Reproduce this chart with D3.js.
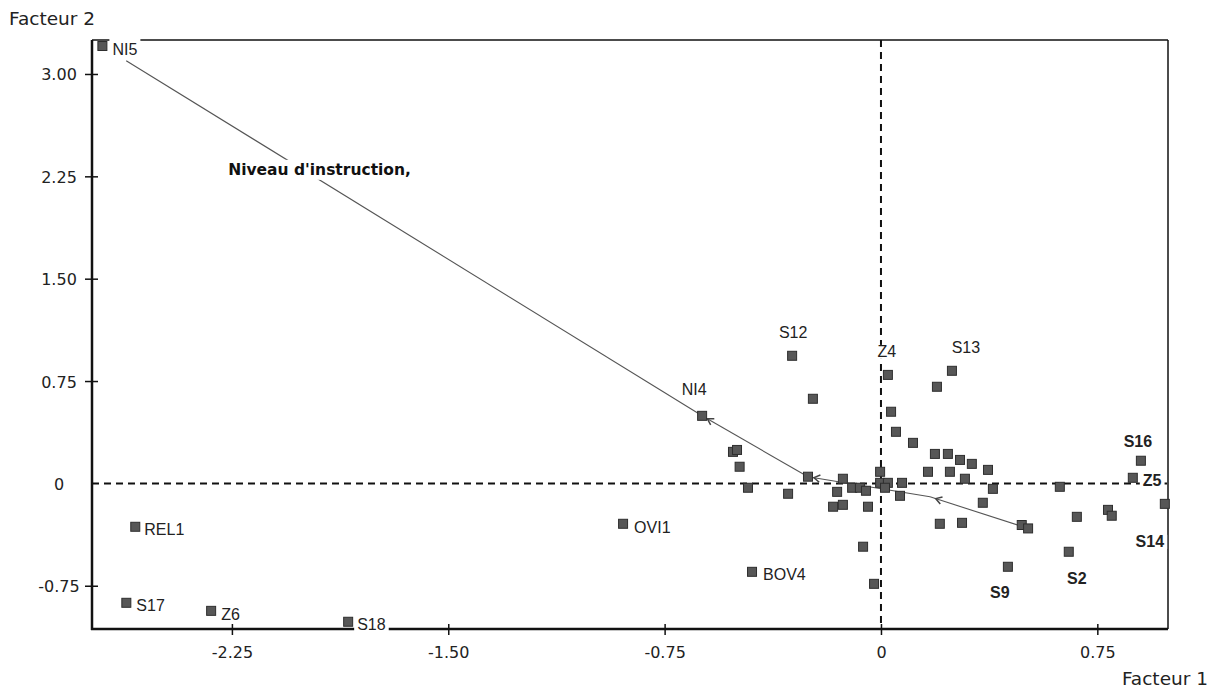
<!DOCTYPE html>
<html><head><meta charset="utf-8">
<script src="https://cdn.jsdelivr.net/npm/d3@7"></script>
<style>body{margin:0;background:#fff}svg{display:block}</style>
</head><body>
<script>
// ---------- DATA ----------
const pointNames = ["NI5","REL1","S17","Z6","S18","OVI1","BOV4","NI4","S12","Z4","S13","S16","Z5","S14","S9","S2",
  "","","","","","","","","","","","","","","","","","","","","","","","","","","","","","","","","","","","","","","","","","","","",""];
const factor1 = [-2.699,-2.585,-2.616,-2.322,-1.847,-0.894,-0.447,-0.620,-0.308,0.024,0.246,0.901,0.873,0.984,0.440,0.651,
  -0.236,0.035,0.052,0.111,0.194,0.187,0.232,0.274,0.315,0.371,0.163,0.239,0.291,0.388,0.353,0.204,0.281,0.488,0.510,
  0.679,0.620,0.787,0.800,-0.062,-0.024,-0.513,-0.499,-0.490,-0.461,-0.322,-0.253,-0.132,-0.152,-0.166,-0.132,
  -0.100,-0.073,-0.052,-0.045,-0.003,-0.003,0.024,0.014,0.073,0.066,0.135,0.152,0.170];
const factor2 = [3.205,-0.318,-0.875,-0.934,-1.014,-0.296,-0.648,0.495,0.935,0.795,0.825,0.166,0.041,-0.150,-0.611,-0.501,
  0.620,0.525,0.378,0.297,0.708,0.216,0.216,0.172,0.143,0.099,0.085,0.085,0.034,-0.040,-0.142,-0.296,-0.289,-0.305,-0.330,
  -0.245,-0.025,-0.194,-0.237,-0.464,-0.736,0.231,0.245,0.122,-0.032,-0.076,0.049,0.034,-0.062,-0.171,-0.157,
  -0.032,-0.032,-0.054,-0.171,0.085,0.004,0.004,-0.032,0.004,-0.091,0.004,-0.047,-0.098];

// trajectory of "Niveau d'instruction" (NI1 -> NI5)
const trajNames = ["NI1","NI2","NI3","NI4","NI5"];
const trajF1 = [0.510, 0.170, -0.253, -0.620, -2.699];
const trajF2 = [-0.330, -0.098, 0.049, 0.495, 3.205];
const trajTitle = "Niveau d'instruction,";

const xTicks = [-2.25, -1.50, -0.75, 0, 0.75];
const xTickLabels = ["-2.25", "-1.50", "-0.75", "0", "0.75"];
const yTicks = [-0.75, 0, 0.75, 1.50, 2.25, 3.00];
const yTickLabels = ["-0.75", "0", "0.75", "1.50", "2.25", "3.00"];
const xDomain = [-2.735, 0.995];
const yDomain = [-1.067, 3.249];
const xTitle = "Facteur 1", yTitle = "Facteur 2";

// ---------- LAYOUT / STYLE ----------
const W = 1219, H = 690;
const M = {left: 92, right: 51, top: 40, bottom: 61};
const labelStyle = {
  NI5: {dx: 10, dy: 9, a: "start"}, REL1: {dx: 9, dy: 8, a: "start"}, S17: {dx: 10, dy: 8, a: "start"},
  Z6: {dx: 10, dy: 9, a: "start"}, S18: {dx: 9, dy: 8, a: "start"}, OVI1: {dx: 11, dy: 9, a: "start"},
  BOV4: {dx: 11, dy: 8, a: "start"}, NI4: {dx: -8, dy: -21, a: "middle"}, S12: {dx: 1, dy: -18, a: "middle"},
  Z4: {dx: -1, dy: -18, a: "middle"}, S13: {dx: 14, dy: -18, a: "middle"}, S16: {dx: -3, dy: -14, a: "middle", b: 1},
  Z5: {dx: 10, dy: 8, a: "start", b: 1}, S14: {dx: -15, dy: 43, a: "middle", b: 1},
  S9: {dx: -8, dy: 31, a: "middle", b: 1}, S2: {dx: 8, dy: 32, a: "middle", b: 1}
};

const svg = d3.select("body").append("svg").attr("width", W).attr("height", H);
const x = d3.scaleLinear().domain(xDomain).range([M.left, W - M.right]);
const y = d3.scaleLinear().domain(yDomain).range([H - M.bottom, M.top]);
const x0 = M.left, x1 = W - M.right, y0 = H - M.bottom, y1 = M.top;

// frame: thin top/right, thick left/bottom
svg.append("line").attr("x1", x0).attr("x2", x1).attr("y1", y1).attr("y2", y1).attr("stroke", "#111").attr("stroke-width", 1.5);
svg.append("line").attr("x1", x1).attr("x2", x1).attr("y1", y1).attr("y2", y0).attr("stroke", "#111").attr("stroke-width", 1.5);

// dashed zero lines
svg.append("line").attr("x1", x0).attr("x2", x1).attr("y1", y(0)).attr("y2", y(0))
  .attr("stroke", "#111").attr("stroke-width", 2).attr("stroke-dasharray", "7,5");
svg.append("line").attr("x1", x(0)).attr("x2", x(0)).attr("y1", y1).attr("y2", y0)
  .attr("stroke", "#111").attr("stroke-width", 2).attr("stroke-dasharray", "7,5");

// axes via d3
const xAxis = d3.axisBottom(x).tickValues(xTicks).tickFormat((d, i) => xTickLabels[i]).tickSize(0).tickPadding(0);
const yAxis = d3.axisLeft(y).tickValues(yTicks).tickFormat((d, i) => yTickLabels[i]).tickSize(0).tickPadding(0);
const gx = svg.append("g").attr("transform", `translate(0,${y0})`).call(xAxis);
const gy = svg.append("g").attr("transform", `translate(${x0},0)`).call(yAxis);
[gx, gy].forEach(g => { g.select(".domain").remove(); g.selectAll("text").remove(); });
gx.selectAll(".tick").append("line").attr("y1", -5).attr("y2", 6).attr("stroke", "#111").attr("stroke-width", 1.5);
gx.selectAll(".tick").append("text").attr("y", 29).attr("text-anchor", "middle")
  .attr("font-family", "DejaVu Sans").attr("font-size", 16).attr("fill", "#222").text((d, i) => xTickLabels[i]);
gy.selectAll(".tick").filter(d => d !== 0).append("line").attr("x1", -7).attr("x2", 6).attr("stroke", "#111").attr("stroke-width", 1.5);
gy.selectAll(".tick").append("text").attr("x", -33).attr("y", 6).attr("text-anchor", "middle")
  .attr("font-family", "DejaVu Sans").attr("font-size", 16).attr("fill", "#222").text((d, i) => yTickLabels[i]);

svg.append("line").attr("x1", x0).attr("x2", x0).attr("y1", y1).attr("y2", y0 + 1).attr("stroke", "#111").attr("stroke-width", 2.5);
svg.append("line").attr("x1", x0 - 1).attr("x2", x1).attr("y1", y0).attr("y2", y0).attr("stroke", "#111").attr("stroke-width", 2.5);

// axis titles
svg.append("text").attr("x", 9).attr("y", 25).attr("font-family", "DejaVu Sans").attr("font-size", 18.5)
  .attr("fill", "#222").text(yTitle);
svg.append("text").attr("x", 1208).attr("y", 685).attr("text-anchor", "end").attr("font-family", "DejaVu Sans")
  .attr("font-size", 18.5).attr("fill", "#222").text(xTitle);

// trajectory line with arrowheads
const traj = trajNames.map((n, i) => ({n, px: x(trajF1[i]), py: y(trajF2[i])}));
const gl = svg.append("g");
for (let i = 0; i < traj.length - 1; i++) {
  const a = traj[i], b = traj[i + 1];
  const dxv = b.px - a.px, dyv = b.py - a.py, len = Math.hypot(dxv, dyv);
  const ux = dxv / len, uy = dyv / len;
  const last = i === traj.length - 2;
  const endGap = last ? 28 : 0;
  gl.append("line").attr("x1", a.px).attr("y1", a.py).attr("x2", b.px - ux * endGap).attr("y2", b.py - uy * endGap)
    .attr("stroke", "#555").attr("stroke-width", 1.1);
  if (!last) {
    const tx = b.px - ux * 6, ty = b.py - uy * 6;
    const ang = Math.atan2(uy, ux), s = 7, w = 0.55;
    const p1 = [tx - s * Math.cos(ang - w), ty - s * Math.sin(ang - w)];
    const p2 = [tx - s * Math.cos(ang + w), ty - s * Math.sin(ang + w)];
    gl.append("path").attr("d", `M${p1[0]},${p1[1]}L${tx},${ty}L${p2[0]},${p2[1]}`)
      .attr("fill", "none").attr("stroke", "#444").attr("stroke-width", 1.5);
  }
}

// trajectory title with white background
const tt = svg.append("text").attr("x", x(-2.263)).attr("y", y(2.261)).attr("font-family", "DejaVu Sans")
  .attr("font-weight", "bold").attr("font-size", 15.5).attr("fill", "#111").text(trajTitle);
const tb = tt.node().getBBox();
svg.insert("rect", () => tt.node()).attr("x", tb.x - 2).attr("y", tb.y - 1).attr("width", tb.width + 4)
  .attr("height", tb.height + 2).attr("fill", "#fff");

// point labels with white backgrounds
const pts = pointNames.map((n, i) => ({n, px: x(factor1[i]), py: y(factor2[i])}));
const gLab = svg.append("g");
pts.filter(p => p.n && labelStyle[p.n]).forEach(p => {
  const st = labelStyle[p.n];
  const t = gLab.append("text").attr("x", p.px + st.dx).attr("y", p.py + st.dy).attr("text-anchor", st.a)
    .attr("font-family", "Liberation Sans, Arial").attr("font-size", 16).attr("font-weight", st.b ? "bold" : "normal")
    .attr("fill", "#222").text(p.n);
  const b = t.node().getBBox();
  const top = p.n === "NI5" ? b.y - 6 : b.y + 2;
  gLab.insert("rect", () => t.node()).attr("x", b.x - 3).attr("y", top).attr("width", b.width + 6)
    .attr("height", b.y + b.height - 1 - top).attr("fill", "#fff");
});

// points
svg.append("g").selectAll("rect").data(pts).join("rect")
  .attr("x", d => d.px - 4.5).attr("y", d => d.py - 4.5).attr("width", 9).attr("height", 9)
  .attr("fill", "#575757").attr("stroke", "#2e2e2e").attr("stroke-width", 1);
</script>
</body></html>
